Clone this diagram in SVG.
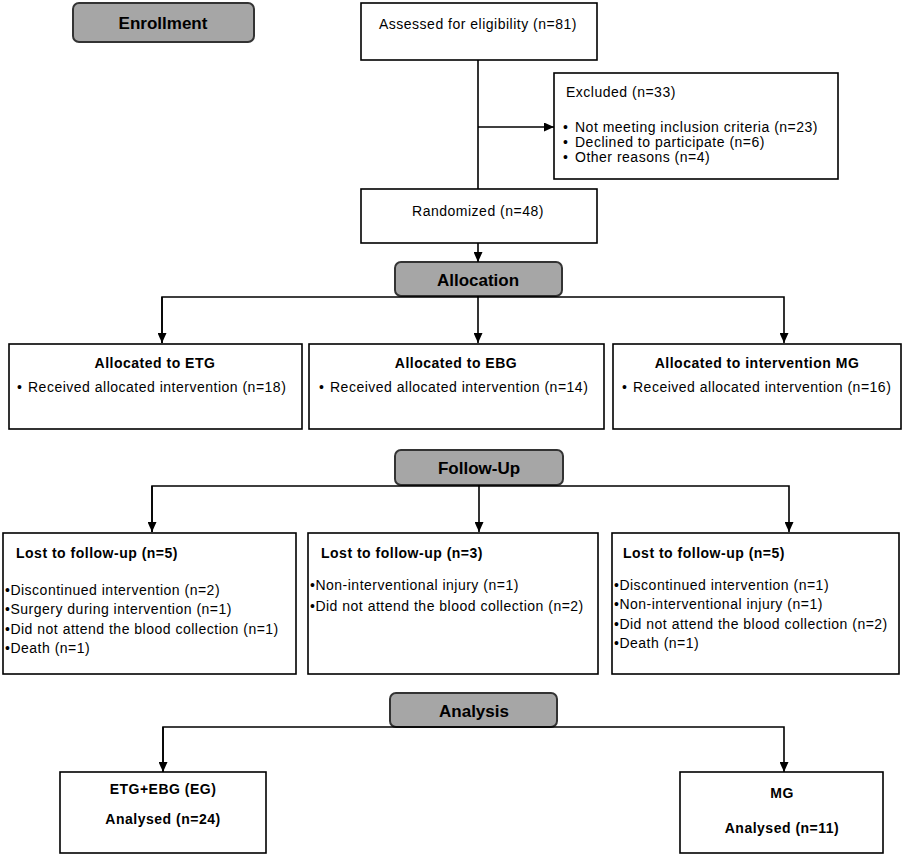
<svg xmlns="http://www.w3.org/2000/svg" width="906" height="857" viewBox="0 0 906 857">
<defs>
<marker id="ah" markerWidth="10" markerHeight="9" refX="10" refY="4.5" orient="auto" markerUnits="userSpaceOnUse">
<path d="M0,0 L10,4.5 L0,9 z" fill="#000"/>
</marker>
<style>
.box{fill:#fff;stroke:#000;stroke-width:1.6}
.hdr{fill:#a6a6a6;stroke:#333;stroke-width:2}
.t{font-family:"Liberation Sans",Arial,sans-serif;font-size:14px;letter-spacing:0.5px;fill:#000}
.b{font-weight:bold}
.h{font-family:"Liberation Sans",Arial,sans-serif;font-size:17px;font-weight:bold;fill:#000}
.m{text-anchor:middle}
.c{stroke:#000;stroke-width:1.6;fill:none}
</style>
</defs>
<rect width="906" height="857" fill="#fff"/>

<g id="enrollment">
<rect class="hdr" x="73" y="3" width="181" height="39" rx="6"/>
<text class="h m" x="163" y="29">Enrollment</text>
</g>

<g id="assessed">
<rect class="box" x="361" y="3" width="236" height="57"/>
<text class="t m" x="478" y="29">Assessed for eligibility (n=81)</text>
</g>

<g id="excluded">
<rect class="box" x="554" y="73" width="284" height="106"/>
<text class="t" x="566" y="97">Excluded (n=33)</text>
<text class="t" x="563" y="132">•</text><text class="t" x="575" y="132">Not meeting inclusion criteria (n=23)</text>
<text class="t" x="563" y="147">•</text><text class="t" x="575" y="147">Declined to participate (n=6)</text>
<text class="t" x="563" y="162">•</text><text class="t" x="575" y="162">Other reasons (n=4)</text>
</g>

<g id="randomized">
<rect class="box" x="361" y="189" width="236" height="54"/>
<text class="t m" x="478" y="216">Randomized (n=48)</text>
</g>

<g id="allocation">
<rect class="hdr" x="395" y="262" width="167" height="34" rx="6"/>
<text class="h m" x="478" y="286">Allocation</text>
</g>

<g id="alloc-etg">
<rect class="box" x="9" y="344" width="293" height="85"/>
<text class="t b m" x="155" y="368">Allocated to ETG</text>
<text class="t" x="17" y="392">•</text><text class="t" x="28" y="392">Received allocated intervention (n=18)</text>
</g>

<g id="alloc-ebg">
<rect class="box" x="309" y="344" width="295" height="85"/>
<text class="t b m" x="456" y="368">Allocated to EBG</text>
<text class="t" x="319" y="392">•</text><text class="t" x="330" y="392">Received allocated intervention (n=14)</text>
</g>

<g id="alloc-mg">
<rect class="box" x="613" y="344" width="288" height="85"/>
<text class="t b m" x="757" y="368">Allocated to intervention MG</text>
<text class="t" x="622" y="392">•</text><text class="t" x="633" y="392">Received allocated intervention (n=16)</text>
</g>

<g id="followup">
<rect class="hdr" x="395" y="450" width="168" height="35" rx="6"/>
<text class="h m" x="479" y="474">Follow-Up</text>
</g>

<g id="lost-etg">
<rect class="box" x="3" y="533" width="293" height="141"/>
<text class="t b" x="16" y="558">Lost to follow-up (n=5)</text>
<text class="t" x="5" y="595">•Discontinued intervention (n=2)</text>
<text class="t" x="5" y="614">•Surgery during intervention (n=1)</text>
<text class="t" x="5" y="634">•Did not attend the blood collection (n=1)</text>
<text class="t" x="5" y="653">•Death (n=1)</text>
</g>

<g id="lost-ebg">
<rect class="box" x="308" y="533" width="290" height="141"/>
<text class="t b" x="321" y="558">Lost to follow-up (n=3)</text>
<text class="t" x="310" y="590">•Non-interventional injury (n=1)</text>
<text class="t" x="310" y="611">•Did not attend the blood collection (n=2)</text>
</g>

<g id="lost-mg">
<rect class="box" x="612" y="533" width="287" height="141"/>
<text class="t b" x="623" y="558">Lost to follow-up (n=5)</text>
<text class="t" x="614" y="590">•Discontinued intervention (n=1)</text>
<text class="t" x="614" y="609">•Non-interventional injury (n=1)</text>
<text class="t" x="614" y="629">•Did not attend the blood collection (n=2)</text>
<text class="t" x="614" y="648">•Death (n=1)</text>
</g>

<g id="analysis">
<rect class="hdr" x="390" y="693" width="167" height="34" rx="6"/>
<text class="h m" x="474" y="717">Analysis</text>
</g>

<g id="analysed-eg">
<rect class="box" x="60" y="772" width="206" height="81"/>
<text class="t b m" x="163" y="794">ETG+EBG (EG)</text>
<text class="t b m" x="163" y="824">Analysed (n=24)</text>
</g>

<g id="analysed-mg">
<rect class="box" x="680" y="772" width="203" height="81"/>
<text class="t b m" x="782" y="798">MG</text>
<text class="t b m" x="782" y="833">Analysed (n=11)</text>
</g>

<g id="connectors">
<path class="c" d="M478,60 V189"/>
<path class="c" d="M478,127 H554" marker-end="url(#ah)"/>
<path class="c" d="M478,243 V262" marker-end="url(#ah)"/>
<path class="c" d="M162,343 V297 H784 V343" marker-end="url(#ah)"/>
<path class="c" d="M162,297 V343" marker-end="url(#ah)"/>
<path class="c" d="M478,296 V343" marker-end="url(#ah)"/>
<path class="c" d="M152,532 V486 H789 V532" marker-end="url(#ah)"/>
<path class="c" d="M152,486 V532" marker-end="url(#ah)"/>
<path class="c" d="M479,485 V532" marker-end="url(#ah)"/>
<path class="c" d="M163,772 V727 H784 V772" marker-end="url(#ah)"/>
<path class="c" d="M163,727 V772" marker-end="url(#ah)"/>
</g>
</svg>
